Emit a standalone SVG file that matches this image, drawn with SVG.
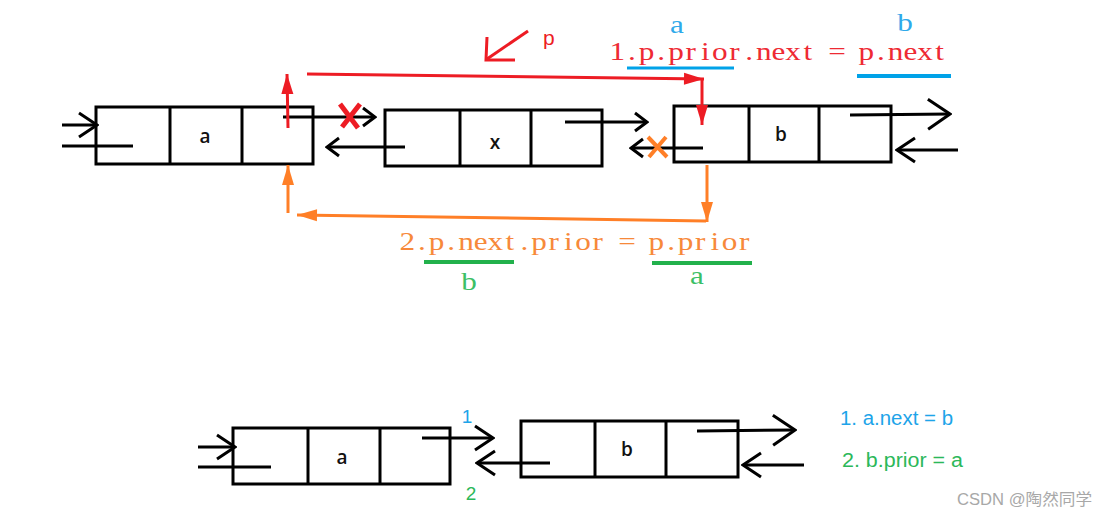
<svg xmlns="http://www.w3.org/2000/svg" width="1108" height="517" viewBox="0 0 1108 517">
<style>
.box{fill:#fff;stroke:#000;stroke-width:3}
.div{stroke:#000;stroke-width:3}
.lbl{font-family:"Open Sans","Liberation Sans",Arial,sans-serif;font-size:19px;font-weight:600;fill:#111;text-anchor:middle}
.blk{stroke:#000;stroke-width:3;fill:none}
.red{stroke:#ed1c24;stroke-width:3;fill:none}
.org{stroke:#ff7f27;stroke-width:3;fill:none}
.ser{font-family:"Liberation Serif","Times New Roman",serif;font-size:26px;text-anchor:middle}
.sans{font-family:"Liberation Sans",Arial,sans-serif}
</style>
<defs>
<marker id="arrS" viewBox="-15 -11 17 22" refX="0" refY="0" markerWidth="17" markerHeight="22" markerUnits="userSpaceOnUse" orient="auto">
<path d="M-12,-9 L0,0 L-12,9" fill="none" stroke="#000" stroke-width="3"/>
</marker>
<marker id="arrM" viewBox="-21 -15 23 30" refX="0" refY="0" markerWidth="23" markerHeight="30" markerUnits="userSpaceOnUse" orient="auto">
<path d="M-18,-12 L0,0 L-18,12" fill="none" stroke="#000" stroke-width="3"/>
</marker>
<marker id="arrL" viewBox="-25 -18 27 36" refX="0" refY="0" markerWidth="27" markerHeight="36" markerUnits="userSpaceOnUse" orient="auto">
<path d="M-22,-15 L0,0 L-22,15" fill="none" stroke="#000" stroke-width="3"/>
</marker>
<marker id="arrRed" viewBox="-22 -8 24 16" refX="0" refY="0" markerWidth="24" markerHeight="16" markerUnits="userSpaceOnUse" orient="auto">
<path d="M-20,-6 L0,0 L-20,6 Z" fill="#ed1c24"/>
</marker>
<marker id="arrOrg" viewBox="-22 -8 24 16" refX="0" refY="0" markerWidth="24" markerHeight="16" markerUnits="userSpaceOnUse" orient="auto">
<path d="M-20,-6 L0,0 L-20,6 Z" fill="#ff7f27"/>
</marker>
</defs>
<rect width="1108" height="517" fill="#fff"/>

<g id="node-a-top">
<rect class="box" x="96" y="107" width="217" height="57"/>
<line class="div" x1="170" y1="107" x2="170" y2="164"/>
<line class="div" x1="242" y1="107" x2="242" y2="164"/>
<text class="lbl" x="205" y="143">a</text>
</g>
<g id="node-x">
<rect class="box" x="385" y="110" width="217" height="56"/>
<line class="div" x1="460" y1="110" x2="460" y2="166"/>
<line class="div" x1="531" y1="110" x2="531" y2="166"/>
<text class="lbl" x="495" y="149">x</text>
</g>
<g id="node-b-top">
<rect class="box" x="674" y="106" width="217" height="56"/>
<line class="div" x1="749" y1="106" x2="749" y2="162"/>
<line class="div" x1="819" y1="106" x2="819" y2="162"/>
<text class="lbl" x="781" y="141">b</text>
</g>
<g id="node-a-bottom">
<rect class="box" x="233" y="428" width="217" height="56"/>
<line class="div" x1="308" y1="428" x2="308" y2="484"/>
<line class="div" x1="380" y1="428" x2="380" y2="484"/>
<text class="lbl" x="342" y="464">a</text>
</g>
<g id="node-b-bottom">
<rect class="box" x="521" y="421" width="217" height="56"/>
<line class="div" x1="595" y1="421" x2="595" y2="477"/>
<line class="div" x1="666" y1="421" x2="666" y2="477"/>
<text class="lbl" x="627" y="456">b</text>
</g>

<g id="connectors">
<line class="blk" x1="62" y1="125" x2="97" y2="125" marker-end="url(#arrM)"/>
<line class="blk" x1="62" y1="146" x2="133" y2="146"/>
<line class="blk" x1="283" y1="117" x2="375" y2="117" marker-end="url(#arrS)"/>
<line class="blk" x1="405" y1="147" x2="327" y2="147" marker-end="url(#arrS)"/>
<line class="blk" x1="565" y1="122" x2="647" y2="122" marker-end="url(#arrS)"/>
<line class="blk" x1="703" y1="148" x2="631" y2="148" marker-end="url(#arrS)"/>
<line class="blk" x1="850" y1="115" x2="950" y2="114" marker-end="url(#arrL)"/>
<line class="blk" x1="958" y1="150" x2="897" y2="150" marker-end="url(#arrM)"/>
<line class="blk" x1="198" y1="447" x2="235" y2="447" marker-end="url(#arrM)"/>
<line class="blk" x1="198" y1="467" x2="271" y2="467"/>
<line class="blk" x1="422" y1="438" x2="493" y2="438" marker-end="url(#arrM)"/>
<line class="blk" x1="550" y1="463" x2="477" y2="463" marker-end="url(#arrM)"/>
<line class="blk" x1="697" y1="431" x2="795" y2="430" marker-end="url(#arrL)"/>
<line class="blk" x1="804" y1="465" x2="743" y2="465" marker-end="url(#arrM)"/>
<line class="red" x1="288" y1="128" x2="287" y2="74" marker-end="url(#arrRed)"/>
<line class="red" x1="307" y1="74" x2="704" y2="79" marker-end="url(#arrRed)"/>
<line class="red" x1="702" y1="79" x2="702" y2="125" marker-end="url(#arrRed)"/>
<line class="red" x1="528" y1="31" x2="487" y2="59"/>
<polyline class="red" points="487,37 486,60 515,60"/>
<line class="org" x1="707" y1="165" x2="707" y2="222" marker-end="url(#arrOrg)"/>
<line class="org" x1="706" y1="221" x2="297" y2="215" marker-end="url(#arrOrg)"/>
<line class="org" x1="288" y1="213" x2="288" y2="165" marker-end="url(#arrOrg)"/>
<path d="M340,104 L358,128 M360,104 L342,127" stroke="#ed1c24" stroke-width="5" fill="none"/>
<path d="M648,137 L667,157 M666,137 L649,157" stroke="#ff7f27" stroke-width="4" fill="none"/>
<line x1="627" y1="68" x2="734" y2="68" stroke="#00a2e8" stroke-width="3"/>
<line x1="857" y1="76" x2="951" y2="76" stroke="#00a2e8" stroke-width="4"/>
<line x1="424" y1="262" x2="514" y2="262" stroke="#22b14c" stroke-width="4"/>
<line x1="652" y1="263" x2="752" y2="263" stroke="#22b14c" stroke-width="4"/>
</g>

<g id="labels">
<text class="sans" x="543" y="45" font-size="21" fill="#ed1c24">p</text>
<g transform="scale(1.2,1)">
<text class="ser" y="60" fill="#ee2a33" x="514.4 526.6 538.8 551.0 563.3 575.5 587.7 599.9 612.1 624.3 636.5 648.7 660.9 673.1 685.3 697.5 709.8 722.0 734.2 746.4 758.6 770.8 783.0">1.p.prior.next = p.next</text>
<text class="ser" x="564.2" y="33" fill="#2fa9ea" font-size="24">a</text>
<text class="ser" x="754.2" y="31" fill="#2fa9ea" font-size="24">b</text>
<text class="ser" y="250" fill="#f7893a" x="339.4 351.6 363.8 376.0 388.3 400.5 412.7 424.9 437.1 449.3 461.5 473.7 485.9 498.1 510.3 522.5 534.8 547.0 559.2 571.4 583.6 595.8 608.0 620.2">2.p.next.prior = p.prior</text>
<text class="ser" x="390.8" y="290" fill="#3cbf66" font-size="24">b</text>
<text class="ser" x="580.8" y="284" fill="#3cbf66" font-size="24">a</text>
</g>
<text class="sans" x="467" y="423" font-size="19" fill="#1ea4e9" text-anchor="middle">1</text>
<text class="sans" x="471" y="500" font-size="19" fill="#2cb85a" text-anchor="middle">2</text>
<text class="sans" x="840" y="425" font-size="20" fill="#1ea4e9" textLength="113" lengthAdjust="spacingAndGlyphs">1. a.next = b</text>
<text class="sans" x="842" y="467" font-size="20" fill="#2cb85a" textLength="121" lengthAdjust="spacingAndGlyphs">2. b.prior = a</text>
<text x="957" y="505" font-family="'Liberation Sans','Noto Sans CJK SC',sans-serif" font-size="16" fill="#a8a8a8" textLength="135" lengthAdjust="spacingAndGlyphs">CSDN @陶然同学</text>
</g>
</svg>
